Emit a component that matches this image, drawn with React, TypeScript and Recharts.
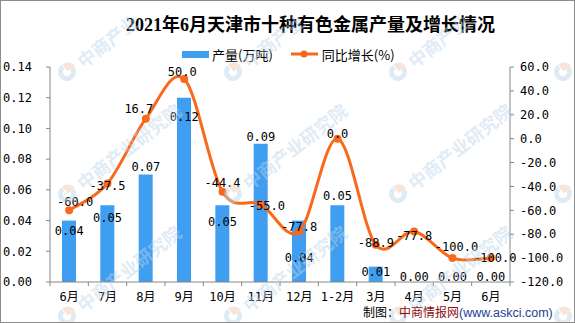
import React from 'react';
import { ComposedChart, Bar, Line, XAxis, YAxis } from 'recharts';

const months = ['6月', '7月', '8月', '9月', '10月', '11月', '12月', '1-2月', '3月', '4月', '5月', '6月'];
const output = [0.04, 0.05, 0.07, 0.12, 0.05, 0.09, 0.04, 0.05, 0.01, 0, 0, 0];
const growth = [-60.0, -37.5, 16.7, 50.0, -44.4, -55.0, -77.8, 0.0, -88.9, -77.8, -100.0, -100.0];
const leftTicks = [0, 0.02, 0.04, 0.06, 0.08, 0.1, 0.12, 0.14];
const rightTicks = [-120, -100, -80, -60, -40, -20, 0, 20, 40, 60];

// label nudges (px), copied from where the original puts them
const barLabelDy = [10, 13, -8, 19, 17, -7, 37, -9, 5, -5, -5, -5];
const lineLabelDx = [6, 0, -7, -2, 0, 6, 0, 0, 0, 0, 4, 4];
const lineLabelDy = [-8, 3, -10, -7, -9, 2, -5, -5, -2, 4, -11, 0];

const data = months.map((m, i) => ({ month: m, output: output[i], growth: growth[i] }));

const MONO = "'DejaVu Sans Mono', 'Noto Sans CJK SC', monospace";
const CJK = "'Noto Sans CJK SC', sans-serif";
const AXIS = '#868686';
const BLUE = '#3f9ef0';
const ORANGE = '#f8691c';
const STEP = 460 / 12;

// Excel-like smoothing (Catmull-Rom through the points)
const smooth = (context: any) => {
  let xs: number[] = [];
  let ys: number[] = [];
  return {
    areaStart() {},
    areaEnd() {},
    lineStart() {
      xs = [];
      ys = [];
    },
    point(x: number, y: number) {
      xs.push(+x);
      ys.push(+y);
    },
    lineEnd() {
      const n = xs.length;
      if (!n) return;
      context.moveTo(xs[0], ys[0]);
      for (let i = 0; i < n - 1; i++) {
        const a = Math.max(i - 1, 0);
        const d = Math.min(i + 2, n - 1);
        context.bezierCurveTo(
          xs[i] + (xs[i + 1] - xs[a]) / 6,
          ys[i] + (ys[i + 1] - ys[a]) / 6,
          xs[i + 1] - (xs[d] - xs[i]) / 6,
          ys[i + 1] - (ys[d] - ys[i]) / 6,
          xs[i + 1],
          ys[i + 1]
        );
      }
    },
  };
};

const MonthTick = (props: any) => {
  const { x, y, payload, index } = props;
  return (
    <g>
      <line x1={x - STEP / 2} x2={x - STEP / 2} y1={y} y2={y + 4} stroke={AXIS} />
      {index === months.length - 1 && (
        <line x1={x + STEP / 2} x2={x + STEP / 2} y1={y} y2={y + 4} stroke={AXIS} />
      )}
      <text x={x} y={y + 15} textAnchor="middle" dominantBaseline="central" fontFamily={MONO} fontSize={12} fill="#000">
        {payload.value}
      </text>
    </g>
  );
};

// drawn on an invisible line through the bar tops so zero bars get a label too
const BarLabel = (props: any) => {
  const { x, y, value, index } = props;
  return (
    <text x={x} y={y + barLabelDy[index]} textAnchor="middle" dominantBaseline="central" fontFamily={MONO} fontSize={12} fill="#000">
      {Number(value).toFixed(2)}
    </text>
  );
};

const LineLabel = (props: any) => {
  const { x, y, value, index } = props;
  return (
    <text x={x + lineLabelDx[index]} y={y + lineLabelDy[index]} textAnchor="middle" dominantBaseline="central" fontFamily={MONO} fontSize={12} fill="#000">
      {Number(value).toFixed(1)}
    </text>
  );
};

const markX = [-98, 67, 233, 398, 563];
const markY = [72, 194, 316];
const markChars = '中商产业研究院'.split('');
const ANG = (-38 * Math.PI) / 180;

// faint diagonal "中商产业研究院" stamp; glyphs that would fall off the picture are skipped
const Watermark = () => (
  <svg width={575} height={323} style={{ position: 'absolute', left: 0, top: 0, pointerEvents: 'none' }}>
    {markY.map((gy) =>
      markX.map((gx) => (
        <g key={`${gx}-${gy}`} opacity={0.45}>
          {gx > -5 && gx < 580 && gy < 330 && (
            <g transform={`translate(${gx},${gy}) rotate(-38)`}>
              <path d="M 0 -9 A 9 9 0 1 0 9 0 L 4 0 A 4 4 0 1 1 0 -4 Z" fill="#b8d4ea" />
              <path d="M 1 -9 A 9 9 0 0 1 10 0 L 1 0 Z" fill="#f3c4ae" />
            </g>
          )}
          {markChars.map((ch, i) => {
            const d = 24 + i * 18;
            const cx = gx + d * Math.cos(ANG);
            const cy = gy + d * Math.sin(ANG);
            if (cx < 15 || cx > 560 || cy < 15 || cy > 308) return null;
            return (
              <text
                key={i}
                x={cx}
                y={cy}
                transform={`rotate(-38 ${cx} ${cy})`}
                textAnchor="middle"
                dominantBaseline="central"
                fontFamily={CJK}
                fontWeight={700}
                fontSize={18}
                fill="#bcd5ea"
              >
                {ch}
              </text>
            );
          })}
        </g>
      ))
    )}
  </svg>
);

export default function App() {
  return (
    <div style={{ position: 'absolute', left: 0, top: 0, width: 575, height: 323, background: '#fff', overflow: 'hidden' }}>
      <div
        style={{
          position: 'absolute',
          left: 126,
          top: 13,
          whiteSpace: 'nowrap',
          fontFamily: "'Liberation Serif', 'Noto Sans CJK SC', serif",
          fontWeight: 700,
          fontSize: 18,
          lineHeight: '24px',
          color: '#000',
        }}
      >
        2021年6月天津市十种有色金属产量及增长情况
      </div>

      <div style={{ position: 'absolute', left: 182, top: 45, height: 18, display: 'flex', alignItems: 'center', fontFamily: CJK, fontSize: 13, color: '#000', whiteSpace: 'nowrap' }}>
        <span style={{ display: 'inline-block', width: 27, height: 7, background: BLUE, marginRight: 3 }} />
        <span>产量(万吨)</span>
        <svg width={27} height={10} style={{ marginLeft: 18, marginRight: 4 }}>
          <line x1={0} x2={27} y1={5} y2={5} stroke={ORANGE} strokeWidth={3} />
          <circle cx={13} cy={5} r={3.5} fill={ORANGE} />
        </svg>
        <span>同比增长(%)</span>
      </div>

      <ComposedChart width={575} height={323} data={data} margin={{ top: 67, right: 0, bottom: 11, left: 0 }}>
        <XAxis
          dataKey="month"
          xAxisId="x"
          stroke={AXIS}
          tickLine={false}
          tickSize={0}
          tickMargin={0}
          height={30}
          interval={0}
          tick={<MonthTick />}
        />
        <YAxis
          yAxisId="left"
          orientation="left"
          width={50}
          domain={[0, 0.14]}
          ticks={leftTicks}
          tickFormatter={(v: number) => v.toFixed(2)}
          stroke={AXIS}
          tickSize={4}
          tickMargin={14}
          tick={{ fill: '#000', fontFamily: MONO, fontSize: 12 }}
          allowDataOverflow
        />
        <YAxis
          yAxisId="right"
          orientation="right"
          width={65}
          domain={[-120, 60]}
          ticks={rightTicks}
          tickFormatter={(v: number) => v.toFixed(1)}
          stroke={AXIS}
          tickSize={4}
          tickMargin={6}
          tick={{ fill: '#000', fontFamily: MONO, fontSize: 12, textAnchor: 'start' }}
          allowDataOverflow
        />
        <Bar xAxisId="x" yAxisId="left" dataKey="output" fill={BLUE} barSize={14} isAnimationActive={false} />
        <Line
          xAxisId="x"
          yAxisId="left"
          dataKey="output"
          stroke="none"
          dot={false}
          activeDot={false}
          legendType="none"
          isAnimationActive={false}
          label={<BarLabel />}
        />
        <Line
          xAxisId="x"
          yAxisId="right"
          dataKey="growth"
          type={smooth as any}
          stroke={ORANGE}
          strokeWidth={3}
          dot={{ r: 4, fill: ORANGE, stroke: ORANGE, strokeWidth: 0 }}
          isAnimationActive={false}
          label={<LineLabel />}
        />
      </ComposedChart>

      <Watermark />

      <div style={{ position: 'absolute', left: 363, top: 304, fontSize: 12, lineHeight: '16px', whiteSpace: 'nowrap' }}>
        <span style={{ fontFamily: CJK, color: '#000' }}>制图：</span>
        <span style={{ fontFamily: CJK, color: '#8a0f0f' }}>中商情报网</span>
        <span style={{ fontFamily: "'Liberation Sans', Arial, sans-serif", color: '#1f3f8f', fontSize: 12.5 }}>(www.askci.com)</span>
      </div>

      <div style={{ position: 'absolute', left: 0, top: 0, width: 575, height: 323, boxSizing: 'border-box', border: '1px solid #8c8c8c', pointerEvents: 'none' }} />
    </div>
  );
}
